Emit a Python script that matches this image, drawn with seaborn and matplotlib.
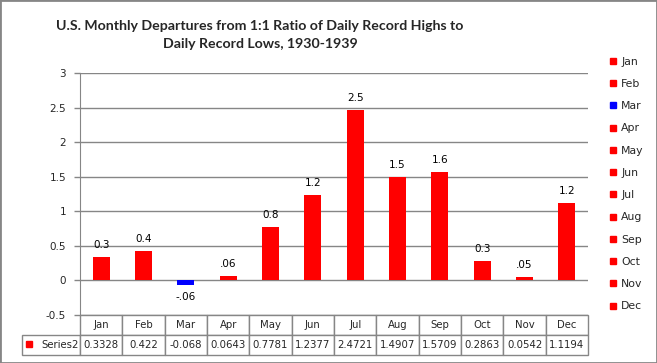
import matplotlib

matplotlib.use("Agg")
import matplotlib.pyplot as plt
import pandas as pd
import seaborn as sns
from matplotlib.lines import Line2D
from matplotlib.patches import Rectangle

MONTHS = ["Jan", "Feb", "Mar", "Apr", "May", "Jun",
          "Jul", "Aug", "Sep", "Oct", "Nov", "Dec"]
VALUES = [0.3328, 0.422, -0.068, 0.0643, 0.7781, 1.2377,
          2.4721, 1.4907, 1.5709, 0.2863, 0.0542, 1.1194]
BAR_LABELS = ["0.3", "0.4", "-.06", ".06", "0.8", "1.2",
              "2.5", "1.5", "1.6", "0.3", ".05", "1.2"]
SERIES_NAME = "Series2"
Y_TICKS = [-0.5, 0, 0.5, 1, 1.5, 2, 2.5, 3]
TITLE = ("U.S. Monthly Departures from 1:1 Ratio of Daily Record Highs to\n"
         "Daily Record Lows, 1930-1939")

RED = "#ff0000"
BLUE = "#0000ff"
GRAY = "#868686"
palette = {m: (BLUE if m == "Mar" else RED) for m in MONTHS}

sns.set_style("white")
plt.rcParams["font.family"] = ["DejaVu Sans"]

df = pd.DataFrame({"month": MONTHS, "value": VALUES})

W, H = 657, 363
fig = plt.figure(figsize=(W / 100, H / 100), dpi=100)
left, right, top, bottom = 80, 588, 73, 315
ax = fig.add_axes([left / W, 1 - bottom / H, (right - left) / W, (bottom - top) / H])

sns.barplot(data=df, x="month", y="value", hue="month", palette=palette,
            width=0.4, dodge=False, legend=False, saturation=1, linewidth=0, ax=ax)

for container, label in zip(ax.containers, BAR_LABELS):
    ax.bar_label(container, labels=[label], padding=5, fontsize=7.5, color="black")

ax.set_xlim(-0.5, len(MONTHS) - 0.5)
ax.set_ylim(Y_TICKS[0], Y_TICKS[-1])
ax.set_yticks(Y_TICKS)
ax.set_yticklabels([f"{t:g}" for t in Y_TICKS], fontsize=7.5)
ax.yaxis.grid(True, color=GRAY, lw=1)
ax.set_axisbelow(True)
ax.tick_params(axis="y", length=4, color=GRAY, width=1, pad=6, left=True)
ax.tick_params(axis="x", bottom=False, labelbottom=False)
ax.set_xlabel("")
ax.set_ylabel("")
for side in ["top", "right", "bottom"]:
    ax.spines[side].set_visible(False)
ax.spines["left"].set_color(GRAY)

# data table under the plot
label_w = (left - 22) / (right - left)
table_h = (355 - bottom) / (bottom - top)
tbl = ax.table(
    cellText=[[""] + MONTHS, [SERIES_NAME] + [f"{v:g}" for v in VALUES]],
    colWidths=[label_w] + [1 / len(MONTHS)] * len(MONTHS),
    bbox=[-label_w, -table_h, 1 + label_w, table_h],
    cellLoc="center",
)
tbl.auto_set_font_size(False)
tbl.set_fontsize(7.3)
for (r, c), cell in tbl.get_celld().items():
    cell.set_edgecolor(GRAY)
    cell.set_linewidth(1)
    if r == 0 and c == 0:
        cell.set_visible(False)
    if r == 1 and c == 0:
        cell.set_text_props(ha="right")
        cell.PAD = 0.03

ax.add_line(Line2D([(29 - left) / (right - left)], [(bottom - 344) / (bottom - top)],
                   marker="s", markersize=5, color=RED, lw=0,
                   transform=ax.transAxes, clip_on=False))

fig.text(260 / W, 1 - 35 / H, TITLE, ha="center", va="center",
         fontsize=10.2, fontweight="bold", family=["Lato", "DejaVu Sans"],
         linespacing=1.65)

handles = [Line2D([], [], marker="s", lw=0, markersize=5, color=palette[m]) for m in MONTHS]
fig.legend(handles, MONTHS, loc="center left", bbox_to_anchor=(604 / W, 1 - 184 / H),
           frameon=False, fontsize=7.8, handlelength=0.7, handletextpad=0.4,
           labelspacing=1.13, borderpad=0)

fig.patches.append(Rectangle((0, 0), 1, 1, transform=fig.transFigure, fill=False,
                             ec=GRAY, lw=2))

fig.savefig("out.png", dpi=100)
